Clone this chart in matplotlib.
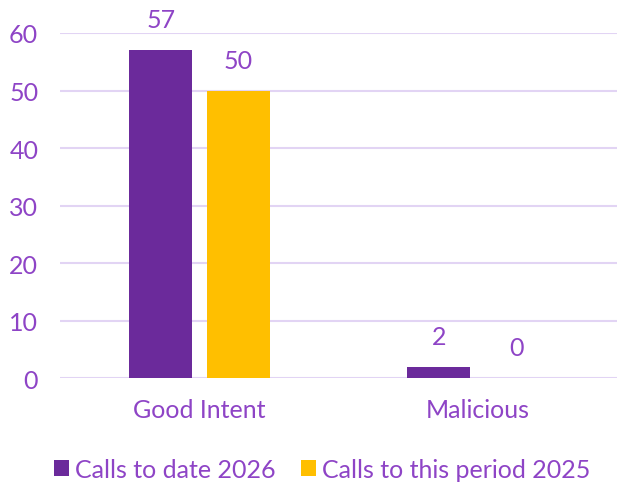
import numpy as np
import matplotlib
matplotlib.use("Agg")
import matplotlib.pyplot as plt

categories = ["Good Intent", "Malicious"]
calls_2026 = [57, 2]
calls_2025 = [50, 0]
series_names = ["Calls to date 2026", "Calls to this period 2025"]

purple = "#6B2A9B"
yellow = "#FFBF00"
txt = "#8E44C6"
grid_c = "#E2D4F4"

plt.rcParams['font.family'] = ['Lato', 'DejaVu Sans']

fig = plt.figure(figsize=(6.17, 4.85), dpi=100)
ax = fig.add_axes([0.098, 0.218, 0.902, 0.712])

x = np.arange(len(categories))
w = 0.226
off = 0.14
b1 = ax.bar(x - off, calls_2026, w, color=purple, label=series_names[0], zorder=3)
b2 = ax.bar(x + off, calls_2025, w, color=yellow, label=series_names[1], zorder=3)

for bars in (b1, b2):
    for r in bars:
        ax.text(r.get_x() + r.get_width() / 2, r.get_height() + 3.3, str(int(r.get_height())),
                ha='center', va='bottom', fontsize=18, color=txt)

ax.set_xlim(-0.5, 1.5)
ax.set_ylim(0, 60)
ax.set_yticks(range(0, 61, 10))
ax.set_xticks(x)
ax.set_xticklabels(categories)
ax.yaxis.grid(True, color=grid_c, linewidth=1.5, zorder=0)
ax.set_axisbelow(True)
for s in ax.spines.values():
    s.set_visible(False)
ax.tick_params(axis='both', length=0, labelsize=18, labelcolor=txt)
ax.tick_params(axis='y', pad=16)
ax.tick_params(axis='x', pad=14)

ax.legend(loc='upper center', bbox_to_anchor=(0.47, -0.165), ncol=2, frameon=False,
          fontsize=18, labelcolor=txt, handlelength=0.6, handleheight=0.6,
          handletextpad=0.25, columnspacing=1.0)

fig.savefig("out.png", dpi=100)
